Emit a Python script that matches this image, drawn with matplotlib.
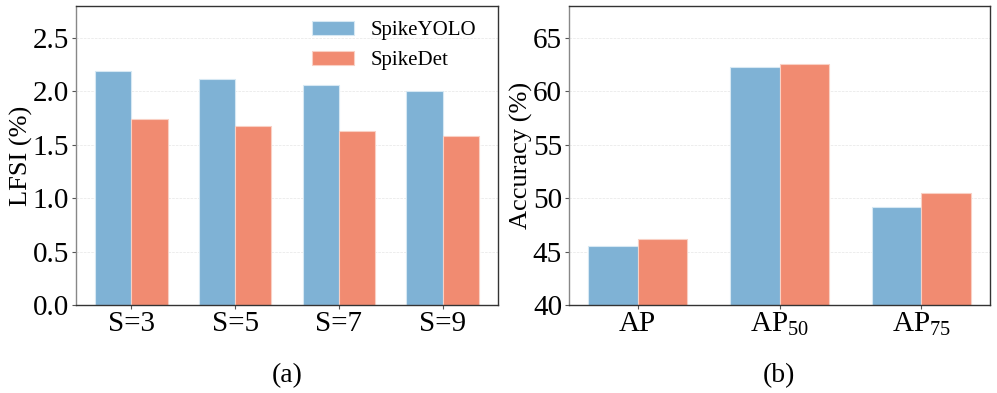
import matplotlib
matplotlib.use("Agg")
import matplotlib.pyplot as plt
import numpy as np

plt.rcParams['font.family'] = ['Liberation Serif', 'DejaVu Serif']
plt.rcParams['mathtext.fontset'] = 'custom'
plt.rcParams['mathtext.rm'] = 'Liberation Serif'
plt.rcParams['mathtext.it'] = 'Liberation Serif:italic'

# Data
scales = ["S=3", "S=5", "S=7", "S=9"]
lfsi_spikeyolo = [2.19, 2.12, 2.06, 2.00]
lfsi_spikedet = [1.74, 1.68, 1.63, 1.58]

metrics = ["AP", r"AP$_{\mathrm{50}}$", r"AP$_{\mathrm{75}}$"]
acc_spikeyolo = [45.5, 62.3, 49.2]
acc_spikedet = [46.2, 62.6, 50.5]

series_names = ["SpikeYOLO", "SpikeDet"]
c_blue = "#7FB2D5"
c_red = "#F18B71"

fig = plt.figure(figsize=(9.97, 3.93), dpi=100)
ax1 = fig.add_axes([0.0762, 0.2239, 0.4233, 0.7608])
ax2 = fig.add_axes([0.5707, 0.2239, 0.4223, 0.7608])

w = 0.35

def style(ax):
    for s in ["top", "right", "bottom"]:
        ax.spines[s].set_color("#333333")
        ax.spines[s].set_linewidth(1.0)
    ax.spines["left"].set_color("#888888")
    ax.spines["left"].set_linewidth(1.0)
    ax.tick_params(axis='both', labelsize=21, length=3, width=0.8, color="#555555", pad=2)
    ax.tick_params(axis='x', pad=1)
    ax.yaxis.grid(True, linestyle='--', linewidth=0.5, color="#e6e6e6")
    ax.set_axisbelow(True)

x = np.arange(len(scales))
ax1.bar(x - w/2, lfsi_spikeyolo, w, color=c_blue, edgecolor="#d6e8f3", linewidth=0.8, label=series_names[0])
ax1.bar(x + w/2, lfsi_spikedet, w, color=c_red, edgecolor="#f9d0c4", linewidth=0.8, label=series_names[1])
ax1.set_xticks(x)
ax1.set_xticklabels(scales)
ax1.set_ylim(0, 2.8)
ax1.set_yticks([0.0, 0.5, 1.0, 1.5, 2.0, 2.5])
ax1.set_yticklabels(["0.0", "0.5", "1.0", "1.5", "2.0", "2.5"])
ax1.set_ylabel("LFSI (%)", fontsize=19, labelpad=0)
style(ax1)
ax1.legend(loc="upper right", frameon=False, fontsize=15, handlelength=2.0, handleheight=0.7,
           handletextpad=0.8, labelspacing=0.5, bbox_to_anchor=(0.993, 1.013))

x2 = np.arange(len(metrics))
ax2.bar(x2 - w/2, acc_spikeyolo, w, color=c_blue, edgecolor="#d6e8f3", linewidth=0.8)
ax2.bar(x2 + w/2, acc_spikedet, w, color=c_red, edgecolor="#f9d0c4", linewidth=0.8)
ax2.set_xticks(x2)
ax2.set_xticklabels(metrics)
ax2.set_ylim(40, 68)
ax2.set_yticks([40, 45, 50, 55, 60, 65])
ax2.set_ylabel("Accuracy (%)", fontsize=19, labelpad=0)
style(ax2)

fig.text(0.288, 0.045, "(a)", fontsize=20, ha="center", va="center")
fig.text(0.781, 0.045, "(b)", fontsize=20, ha="center", va="center")

fig.savefig("out.png", dpi=100)
